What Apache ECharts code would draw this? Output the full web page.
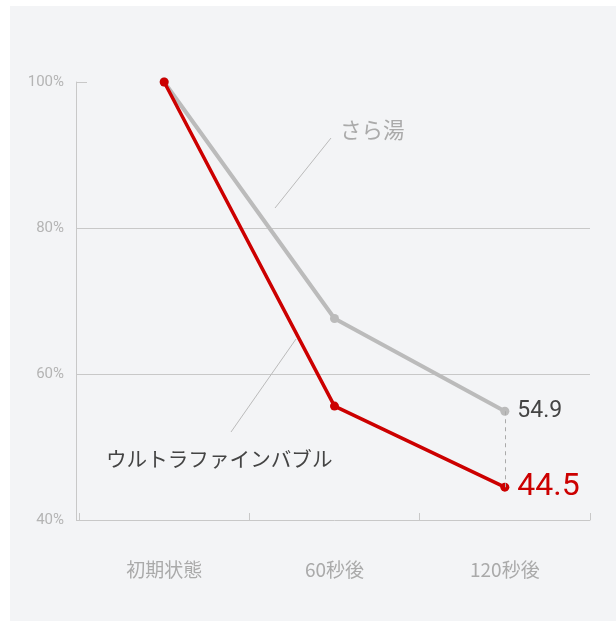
<!DOCTYPE html>
<html>
<head>
<meta charset="utf-8">
<script src="https://cdn.jsdelivr.net/npm/echarts@6/dist/echarts.min.js"></script>
<style>
html,body{margin:0;padding:0;background:#ffffff;}
#chart{width:616px;height:621px;}
</style>
</head>
<body>
<div id="chart"></div>
<script>
const categories = ['初期状態', '60秒後', '120秒後'];
const sarayuValues = [100, 67.6, 54.9];
const ufbValues = [100, 55.6, 44.5];
const seriesNames = ['さら湯', 'ウルトラファインバブル'];
const yTicks = [40, 60, 80, 100];

const FONT = '"Noto Sans CJK JP", "Noto Sans", sans-serif';
const NUMFONT = 'Roboto, "Noto Sans CJK JP", sans-serif';
const RED = '#cc0000';
const GRAY = '#bbbbbb';
const AXIS = '#c8c8c8';

const chart = echarts.init(document.getElementById('chart'), null, {renderer: 'canvas'});
const lastIdx = categories.length - 1;

const baseGraphic = [
  {type: 'rect', z: -10, silent: true, shape: {x: 10, y: 6, width: 606, height: 615}, style: {fill: '#f3f4f6'}},
  {type: 'line', z: 5, silent: true, shape: {x1: 275, y1: 208, x2: 331, y2: 138}, style: {stroke: '#bbbbbb', lineWidth: 1}},
  {type: 'text', z: 5, silent: true, style: {x: 340, y: 130, text: seriesNames[0], fill: '#aaaaaa', font: '21.5px ' + FONT, textVerticalAlign: 'middle'}},
  {type: 'line', z: 5, silent: true, shape: {x1: 231, y1: 432, x2: 296, y2: 339}, style: {stroke: '#bbbbbb', lineWidth: 1}},
  {type: 'text', z: 5, silent: true, style: {x: 106, y: 459, text: seriesNames[1], fill: '#444444', font: '20.6px ' + FONT, textVerticalAlign: 'middle'}}
];

chart.setOption({
  animation: false,
  backgroundColor: '#ffffff',
  graphic: baseGraphic,
  grid: {left: 79, right: 26, top: 82, bottom: 101, containLabel: false},
  xAxis: {
    type: 'category',
    data: categories,
    boundaryGap: true,
    axisLine: {show: true, lineStyle: {color: AXIS, width: 1}},
    axisTick: {show: true, inside: true, length: 7, lineStyle: {color: AXIS}},
    axisLabel: {color: '#aaaaaa', fontSize: 19, margin: 40, fontFamily: FONT}
  },
  yAxis: {
    type: 'value',
    min: yTicks[0],
    max: yTicks[yTicks.length - 1],
    interval: 20,
    offset: 3,
    axisLine: {show: true, lineStyle: {color: AXIS, width: 1}},
    axisTick: {show: true, inside: true, length: 11, lineStyle: {color: AXIS}},
    axisLabel: {color: '#b4b4b4', fontSize: 15, margin: 12, fontFamily: NUMFONT, formatter: v => v + '%'},
    splitLine: {show: true, lineStyle: {color: ['rgba(0,0,0,0)', AXIS, AXIS, 'rgba(0,0,0,0)'], width: 1}}
  },
  series: [
    {
      name: seriesNames[0],
      type: 'line',
      data: sarayuValues,
      symbol: 'circle',
      symbolSize: 9,
      lineStyle: {color: GRAY, width: 4},
      itemStyle: {color: GRAY},
      z: 2,
      label: {
        show: true, position: 'right', distance: 8,
        color: '#444444', fontSize: 23, fontFamily: NUMFONT,
        formatter: p => p.dataIndex === lastIdx ? p.value.toFixed(1) : ''
      },
      markLine: {
        silent: true, symbol: 'none', animation: false,
        label: {show: false},
        lineStyle: {color: '#aaaaaa', type: [4, 4], width: 1},
        data: [[{coord: [lastIdx, sarayuValues[lastIdx]]}, {coord: [lastIdx, ufbValues[lastIdx]]}]]
      }
    },
    {
      name: seriesNames[1],
      type: 'line',
      data: ufbValues,
      symbol: 'circle',
      symbolSize: 9,
      lineStyle: {color: RED, width: 3.5},
      itemStyle: {color: RED},
      z: 3,
      label: {
        show: true, position: 'right', distance: 8,
        color: RED, fontSize: 32, fontFamily: NUMFONT,
        formatter: p => p.dataIndex === lastIdx ? p.value.toFixed(1) : ''
      }
    }
  ]
});

// bridge the small gap between the offset y axis and the grid lines
const bridges = yTicks.slice(0, 3).map(v => {
  const y = Math.round(chart.convertToPixel({yAxisIndex: 0}, v)) + 0.5;
  return {type: 'line', z: 5, silent: true, shape: {x1: 76, y1: y, x2: 80, y2: y}, style: {stroke: AXIS, lineWidth: 1}};
});
chart.setOption({graphic: baseGraphic.concat(bridges)});
</script>
</body>
</html>
